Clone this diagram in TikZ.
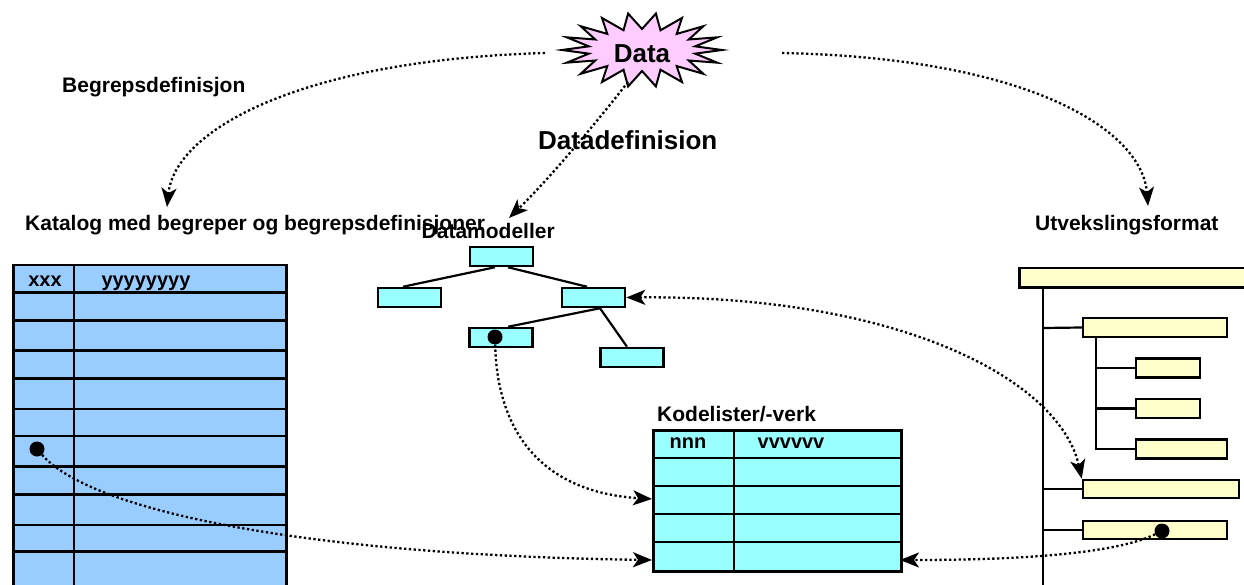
\documentclass[tikz,border=0pt]{standalone}
\usepackage{fontspec}
\setmainfont{Liberation Sans}
\usetikzlibrary{arrows.meta,calc}
\definecolor{catblue}{HTML}{99CCFF}
\definecolor{modcyan}{HTML}{99FFFF}
\definecolor{fmtyellow}{HTML}{FFFFCC}
\definecolor{burstpink}{HTML}{FFCCFF}
\begin{document}
\begin{tikzpicture}[x=1pt,y=-1pt,
  notch/.tip={Stealth[length=19pt,width=15pt,inset=5pt]},
  lbl/.style={font=\fontsize{21}{25}\selectfont\bfseries, anchor=base west, inner sep=0},
  cell/.style={font=\fontsize{20}{24}\selectfont\bfseries, anchor=base, inner sep=0},
  grid/.style={line width=2.5pt},
  link/.style={line width=2.2pt},
  mbox/.style={draw, fill=modcyan, line width=2.5pt, minimum width=63pt, minimum height=19pt, inner sep=0},
  fbox/.style={draw, fill=fmtyellow, line width=2.5pt, minimum height=19pt, inner sep=0},
  knob/.style={circle, fill=black, minimum size=15pt, inner sep=0},
  flow/.style={line width=2.3pt, dash pattern=on 2.3pt off 2.5pt, -{notch}},
  flow2/.style={line width=2.3pt, dash pattern=on 2.3pt off 2.5pt, {notch}-{notch}}
]
\useasboundingbox (0,0) rectangle (1244,585);
\clip (0,0) rectangle (1244,585);

% ---------- Data burst ----------
\draw[line width=2pt, fill=burstpink, line join=miter]
  plot[samples at={0,...,35}, variable=\k]
  ({642+ifthenelse(mod(\k,2)==0,80,54)*cos(\k*10)},
   {50+ifthenelse(mod(\k,2)==0,37,21)*sin(\k*10)}) -- cycle;
\node[font=\fontsize{26}{30}\selectfont\bfseries, anchor=base, inner sep=0] (data) at (642,63) {Data};
\coordinate (burstW) at (545,53);
\coordinate (burstS) at (628,82);
\coordinate (burstE) at (782,53);

% ---------- labels ----------
\node[lbl] (begrep) at (62,93) {Begrepsdefinisjon};
\node[lbl, font=\fontsize{26}{30}\selectfont\bfseries] (datadef) at (538,150) {Datadefinision};
\node[lbl] (katalogT) at (25,231) {Katalog med begreper og begrepsdefinisjoner};
\node[lbl] (modT) at (421.5,239) {Datamodeller};
\node[lbl] (fmtT) at (1035,231) {Utvekslingsformat};
\node[lbl] (kodeT) at (657,421.5) {Kodelister/-verk};

\coordinate (katIn) at (167,207);
\coordinate (modIn) at (509,218);
\coordinate (fmtIn) at (1148,206);

% ---------- concept catalogue table ----------
\node[draw, fill=catblue, grid, minimum width=273pt, minimum height=340pt, anchor=north west, inner sep=0] (katalog) at (12,264) {};
\foreach \y in {292.7,320.7,350.5,378.5,409,436,466.5,494.5,525,551.5}
  \draw[grid] (12,\y) -- (285,\y);
\draw[grid] (74,264) -- (74,604);
\node[cell] (kx) at (45,286.5) {xxx};
\node[cell] (ky) at (146,286.5) {yyyyyyyy};
\node[knob] (dotK) at (37,449) {};

% ---------- data model tree ----------
\node[mbox] (m0) at (501.5,256.5) {};
\node[mbox] (m1) at (409.5,297.5) {};
\node[mbox] (m2) at (593.5,297.5) {};
\node[mbox] (m3) at (501,337.5) {};
\node[mbox] (m4) at (632,357.5) {};
\draw[link] ($(m0.south)+(-6.5,0)$) -- ($(m1.north)+(-6.5,0)$);
\draw[link] ($(m0.south)+(6.5,0)$) -- ($(m2.north)+(-6.5,0)$);
\draw[link] ($(m2.south)+(6.5,0)$) -- ($(m3.north)+(7,0)$);
\draw[link] ($(m2.south)+(6.5,0)$) -- ($(m4.north)+(-5,0)$);
\node[knob] (dotM) at (495,337) {};

% ---------- code list table ----------
\node[draw, fill=modcyan, grid, minimum width=248pt, minimum height=141pt, anchor=north west, inner sep=0] (kode) at (652,429) {};
\foreach \y in {458,486,514,542}
  \draw[grid] (652,\y) -- (900,\y);
\draw[grid] (734,429) -- (734,570);
\node[cell] (kn) at (688,448) {nnn};
\node[cell] (kv) at (791,448) {vvvvvv};
\coordinate (kodeIn1) at (652,499);
\coordinate (kodeIn2) at (652,560);
\coordinate (kodeIn3) at (900,560);

% ---------- exchange format structure ----------
\node[fbox, minimum width=260pt, anchor=north west] (f0) at (1018,267) {};
\draw[grid] (1043,286) -- (1043,600);
\node[fbox, minimum width=144pt] (fA) at (1155,327.5) {};
\node[fbox, minimum width=64pt] (fB1) at (1168,368) {};
\node[fbox, minimum width=64pt] (fB2) at (1168,408.5) {};
\node[fbox, minimum width=91pt] (fB3) at (1181.5,449) {};
\node[fbox, minimum width=156pt, minimum height=18pt] (fC) at (1161,489) {};
\node[fbox, minimum width=144pt, minimum height=18pt] (fD) at (1155,530) {};
\draw[link] (1043,328) -- (fA.west);
\draw[link] (1096,337) -- (1096,449) -- (fB3.west);
\draw[link] (1096,368) -- (fB1.west);
\draw[link] (1096,408.5) -- (fB2.west);
\draw[link] (1043,489) -- (fC.west);
\draw[link] (1043,530) -- (fD.west);
\node[knob] (dotD) at (1162,531) {};

% ---------- dotted connectors ----------
\draw[flow] (burstW) .. controls (300,60) and (175,130) .. (katIn);
\draw[flow] (burstS) .. controls (592,128) and (548,180) .. (modIn);
\draw[flow] (burstE) .. controls (1030,58) and (1142,130) .. (fmtIn);
\draw[flow] (dotM) .. controls (497,430) and (540,492) .. (kodeIn1);
\draw[flow] (dotK) .. controls (90,510) and (300,555) .. (kodeIn2);
\draw[flow] (dotD) .. controls (1110,556) and (1000,560) .. (kodeIn3);
\draw[flow2] (m2.east) .. controls (900,295) and (1060,380) .. (fC.north west);
\end{tikzpicture}
\end{document}
